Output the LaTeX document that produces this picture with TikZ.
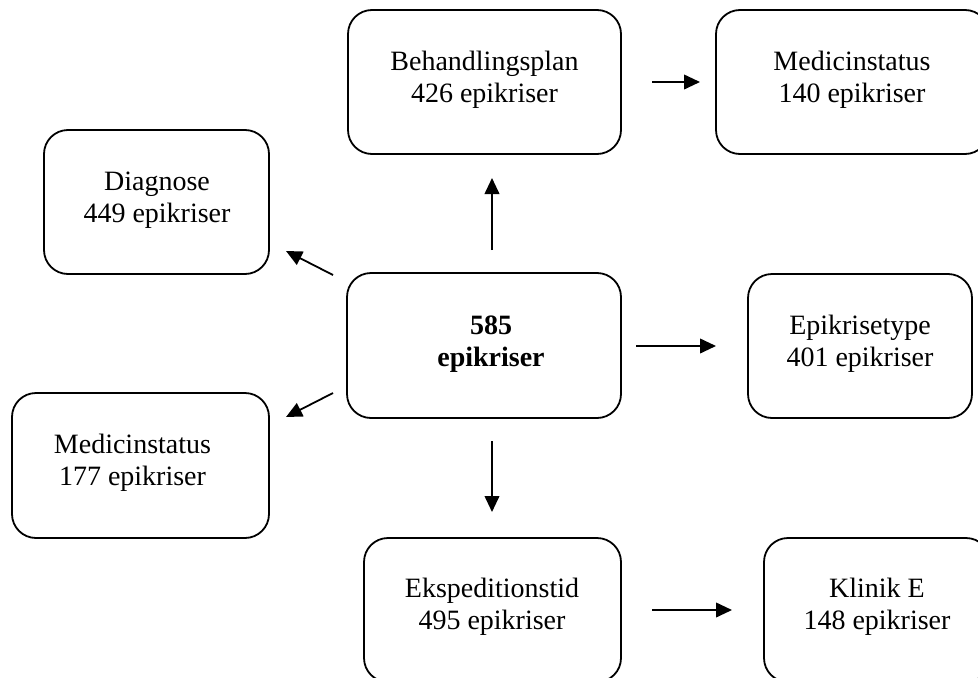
\documentclass[tikz,border=0pt]{standalone}
\usepackage{fontspec}
\setmainfont{Liberation Serif}
\usetikzlibrary{arrows.meta}
\begin{document}
\begin{tikzpicture}[x=0.75pt,y=-0.75pt,
  box/.style={draw, line width=1.35pt, rounded corners=18pt, inner sep=0pt},
  lbl/.style={anchor=base, inner sep=0pt, font=\fontsize{21}{24}\selectfont},
  blbl/.style={lbl, font=\fontsize{21}{24}\selectfont\bfseries},
  arr/.style={line width=1.35pt, -{Triangle[length=12pt,width=11pt]}}]
\useasboundingbox (0,0) rectangle (978,678);

% boxes
\node[box, minimum width=204.75pt, minimum height=108pt] (beh) at (484.5,82) {};
\node[box, minimum width=204.75pt, minimum height=108pt] (medA) at (852.5,82) {};
\node[box, minimum width=168.75pt, minimum height=108pt] (diag) at (156.5,202) {};
\node[box, minimum width=205.5pt, minimum height=108.75pt] (ctr) at (484,345.5) {};
\node[box, minimum width=168pt, minimum height=108pt] (epi) at (860,346) {};
\node[box, minimum width=192.75pt, minimum height=108.75pt] (medB) at (140.5,465.5) {};
\node[box, minimum width=192.75pt, minimum height=108pt] (eks) at (492.5,610) {};
\node[box, minimum width=169.5pt, minimum height=108pt] (kli) at (877,610) {};

% texts
\node[lbl] (beh1) at (484.5,70) {Behandlingsplan};
\node[lbl] (beh2) at (484.5,102) {426 epikriser};
\node[lbl] (medA1) at (852,70) {Medicinstatus};
\node[lbl] (medA2) at (852,102) {140 epikriser};
\node[lbl] (diag1) at (157,190) {Diagnose};
\node[lbl] (diag2) at (157,222) {449 epikriser};
\node[blbl] (ctr1) at (491,334) {585};
\node[blbl] (ctr2) at (491,366) {epikriser};
\node[lbl] (epi1) at (860,334) {Epikrisetype};
\node[lbl] (epi2) at (860,366) {401 epikriser};
\node[lbl] (medB1) at (132.5,453) {Medicinstatus};
\node[lbl] (medB2) at (132.5,485) {177 epikriser};
\node[lbl] (eks1) at (492,597) {Ekspeditionstid};
\node[lbl] (eks2) at (492,629) {495 epikriser};
\node[lbl] (kli1) at (877,597) {Klinik E};
\node[lbl] (kli2) at (877,629) {148 epikriser};

% arrow end points
\coordinate (a1s) at (652,82);  \coordinate (a1e) at (700,82);
\coordinate (a2s) at (492,250); \coordinate (a2e) at (492,178);
\coordinate (a3s) at (333,275); \coordinate (a3e) at (286,251);
\coordinate (a4s) at (636,346); \coordinate (a4e) at (716,346);
\coordinate (a5s) at (333,393); \coordinate (a5e) at (286,417);
\coordinate (a6s) at (492,441); \coordinate (a6e) at (492,512);
\coordinate (a7s) at (652,610); \coordinate (a7e) at (732,610);

\draw[arr] (a1s) -- (a1e);
\draw[arr] (a2s) -- (a2e);
\draw[arr] (a3s) -- (a3e);
\draw[arr] (a4s) -- (a4e);
\draw[arr] (a5s) -- (a5e);
\draw[arr] (a6s) -- (a6e);
\draw[arr] (a7s) -- (a7e);
\end{tikzpicture}
\end{document}
